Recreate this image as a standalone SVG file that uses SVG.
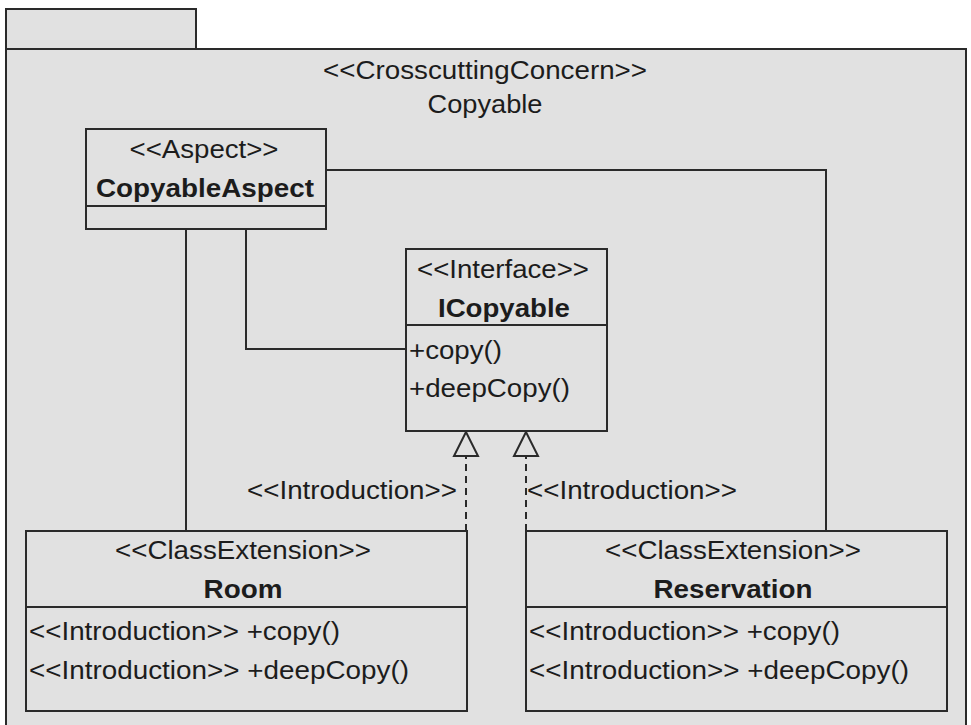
<svg xmlns="http://www.w3.org/2000/svg" width="971" height="725" viewBox="0 0 971 725">
<style>
.box{fill:#e1e1e1;stroke:#2a2a2a;stroke-width:2}
.ln{fill:none;stroke:#2a2a2a;stroke-width:2}
.dash{fill:none;stroke:#2a2a2a;stroke-width:2;stroke-dasharray:7 5}
.tri{fill:#e1e1e1;stroke:#2a2a2a;stroke-width:2}
text{font-family:"Liberation Sans",Arial,sans-serif;font-size:25px;fill:#1c1c1c}
.c{text-anchor:middle}
.b{font-weight:bold}
</style>
<rect width="971" height="725" fill="#ffffff"/>
<g id="package">
<rect class="box" x="6" y="9" width="190" height="40"/>
<rect class="box" x="6" y="49" width="960" height="700"/>
<text class="c" x="485" y="79" textLength="324" lengthAdjust="spacingAndGlyphs">&lt;&lt;CrosscuttingConcern&gt;&gt;</text>
<text class="c" x="485" y="113" textLength="115" lengthAdjust="spacingAndGlyphs">Copyable</text>
</g>
<g id="connectors">
<polyline class="ln" points="326,170 826,170 826,531"/>
<line class="ln" x1="186" y1="229" x2="186" y2="531"/>
<polyline class="ln" points="246,229 246,349 406,349"/>
<line class="dash" x1="466" y1="531" x2="466" y2="456"/>
<line class="dash" x1="526" y1="531" x2="526" y2="456"/>
<polygon class="tri" points="466,432 454,456 478,456"/>
<polygon class="tri" points="526,432 514,456 538,456"/>
<text x="247" y="499" textLength="210" lengthAdjust="spacingAndGlyphs">&lt;&lt;Introduction&gt;&gt;</text>
<text x="527" y="499" textLength="210" lengthAdjust="spacingAndGlyphs">&lt;&lt;Introduction&gt;&gt;</text>
</g>
<g id="CopyableAspect">
<rect class="box" x="86" y="129" width="240" height="100"/>
<line class="ln" x1="86" y1="206" x2="326" y2="206"/>
<text class="c" x="204" y="158" textLength="149" lengthAdjust="spacingAndGlyphs">&lt;&lt;Aspect&gt;&gt;</text>
<text class="c b" x="205" y="197" textLength="218" lengthAdjust="spacingAndGlyphs">CopyableAspect</text>
</g>
<g id="ICopyable">
<rect class="box" x="406" y="249" width="201" height="182"/>
<line class="ln" x1="406" y1="325" x2="607" y2="325"/>
<text class="c" x="503" y="278" textLength="172" lengthAdjust="spacingAndGlyphs">&lt;&lt;Interface&gt;&gt;</text>
<text class="c b" x="504" y="317" textLength="132" lengthAdjust="spacingAndGlyphs">ICopyable</text>
<text x="409" y="359" textLength="93" lengthAdjust="spacingAndGlyphs">+copy()</text>
<text x="409" y="397" textLength="161" lengthAdjust="spacingAndGlyphs">+deepCopy()</text>
</g>
<g id="Room">
<rect class="box" x="26" y="531" width="441" height="180"/>
<line class="ln" x1="26" y1="607" x2="467" y2="607"/>
<text class="c" x="243" y="559" textLength="256" lengthAdjust="spacingAndGlyphs">&lt;&lt;ClassExtension&gt;&gt;</text>
<text class="c b" x="243" y="598" textLength="79" lengthAdjust="spacingAndGlyphs">Room</text>
<text x="29" y="640" textLength="311" lengthAdjust="spacingAndGlyphs">&lt;&lt;Introduction&gt;&gt; +copy()</text>
<text x="29" y="679" textLength="380" lengthAdjust="spacingAndGlyphs">&lt;&lt;Introduction&gt;&gt; +deepCopy()</text>
</g>
<g id="Reservation">
<rect class="box" x="526" y="531" width="421" height="180"/>
<line class="ln" x1="526" y1="607" x2="947" y2="607"/>
<text class="c" x="733" y="559" textLength="256" lengthAdjust="spacingAndGlyphs">&lt;&lt;ClassExtension&gt;&gt;</text>
<text class="c b" x="733" y="598" textLength="159" lengthAdjust="spacingAndGlyphs">Reservation</text>
<text x="529" y="640" textLength="311" lengthAdjust="spacingAndGlyphs">&lt;&lt;Introduction&gt;&gt; +copy()</text>
<text x="529" y="679" textLength="380" lengthAdjust="spacingAndGlyphs">&lt;&lt;Introduction&gt;&gt; +deepCopy()</text>
</g>
</svg>
